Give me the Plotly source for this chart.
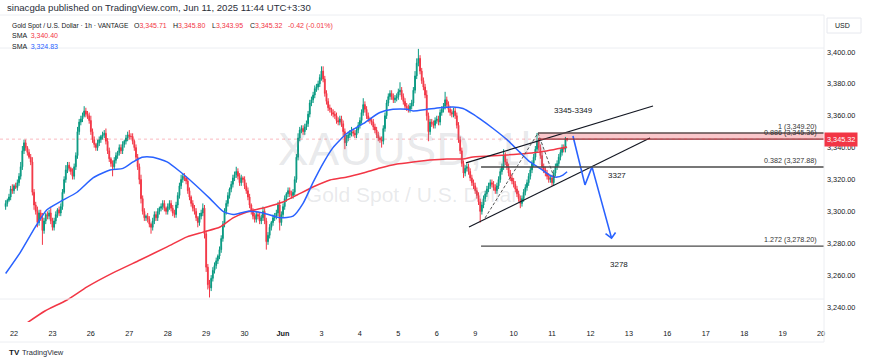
import plotly.graph_objects as go

# ---------------- data (hourly XAUUSD candles, bar 0 = start of May 22 session) ----------------
FIRST_BAR = -5
BARS_PER_DAY = 23
first_open = 3303.0

closes = [
    3305, 3307, 3309, 3314, 3313, 3316, 3315, 3318, 3322, 3328,
    3338, 3343, 3340, 3337, 3334, 3331, 3312, 3304, 3300, 3293,
    3299, 3296, 3288, 3294, 3298, 3297, 3299, 3294, 3290, 3294,
    3298, 3301, 3299, 3303, 3312, 3320, 3326, 3329, 3327, 3325,
    3322, 3328, 3335, 3350, 3356, 3358, 3360, 3363, 3361, 3360,
    3357, 3350, 3345, 3342, 3340, 3343, 3345, 3347, 3348, 3349,
    3344, 3338, 3333, 3330, 3328, 3332, 3335, 3337, 3340, 3338,
    3342, 3344, 3346, 3348, 3347, 3347, 3344, 3340, 3334, 3328,
    3320, 3308, 3300, 3296, 3297, 3295, 3292, 3290, 3294, 3298,
    3296, 3300, 3302, 3303, 3305, 3302, 3300, 3303, 3305, 3302,
    3299, 3298, 3304, 3310, 3316, 3320, 3322, 3321, 3319, 3313,
    3309, 3305, 3302, 3300, 3296, 3293, 3297, 3299, 3302, 3286,
    3265, 3254, 3252, 3258, 3263, 3266, 3269, 3272, 3276, 3283,
    3292, 3300, 3305, 3310, 3314, 3317, 3321, 3323, 3325, 3322,
    3318, 3321, 3320, 3316, 3313, 3309, 3304, 3300, 3297, 3295,
    3298, 3297, 3294, 3296, 3300, 3294, 3281, 3285, 3290, 3293,
    3296, 3297, 3299, 3304, 3293, 3298, 3303, 3308, 3311, 3313,
    3311, 3310, 3312, 3320, 3334, 3346, 3351, 3352, 3350, 3353,
    3355, 3361, 3368, 3370, 3373, 3377, 3378, 3380, 3384, 3388,
    3383, 3374, 3369, 3365, 3364, 3362, 3361, 3360, 3357, 3356,
    3358, 3355, 3350, 3343, 3346, 3348, 3349, 3350, 3349, 3348,
    3351, 3354, 3357, 3362, 3367, 3364, 3360, 3358, 3357, 3356,
    3353, 3351, 3348, 3346, 3345, 3344, 3352, 3360, 3368, 3372,
    3374, 3372, 3370, 3371, 3372, 3375, 3376, 3372, 3369, 3366,
    3365, 3364, 3366, 3368, 3376, 3385, 3393, 3396, 3388, 3382,
    3378, 3373, 3360, 3350, 3356, 3355, 3354, 3357, 3358, 3356,
    3362, 3364, 3366, 3370, 3367, 3364, 3362, 3361, 3363, 3360,
    3354, 3345, 3338, 3330, 3324, 3327, 3328, 3325, 3321, 3318,
    3316, 3313, 3310, 3306, 3300, 3304, 3308, 3311, 3314, 3316,
    3318, 3317, 3315, 3313, 3316, 3320, 3325, 3328, 3335, 3331,
    3328, 3324, 3321, 3319, 3317, 3314, 3311, 3308, 3305, 3308,
    3312, 3315, 3318, 3322, 3326, 3330, 3334, 3339, 3344, 3340,
    3335, 3328, 3326, 3324, 3322, 3320, 3321, 3318, 3324, 3328,
    3330, 3334, 3337, 3340, 3339, 3345.71, 3345.32,
]

upper_wicks = [
    2, 1, 2, 2, 3, 1, 2, 2, 2, 3,
    3, 2, 2, 1, 2, 2, 3, 2, 2, 3,
    2, 2, 3, 2, 1, 2, 2, 3, 2, 2,
    2, 1, 2, 2, 2, 2, 3, 2, 2, 1,
    2, 2, 2, 3, 2, 2, 2, 3, 2, 2,
    2, 3, 2, 2, 1, 2, 2, 1, 2, 2,
    3, 2, 2, 1, 2, 2, 2, 1, 2, 2,
    2, 1, 2, 2, 3, 2, 2, 1, 2, 2,
    2, 3, 2, 2, 1, 2, 2, 1, 2, 2,
    2, 2, 1, 2, 2, 2, 1, 2, 2, 2,
    2, 2, 2, 2, 2, 3, 2, 2, 1, 2,
    2, 1, 2, 2, 2, 1, 2, 2, 3, 2,
    2, 2, 3, 2, 2, 2, 2, 1, 2, 2,
    2, 2, 2, 2, 1, 2, 2, 2, 3, 2,
    2, 2, 1, 2, 2, 2, 2, 1, 2, 2,
    2, 2, 2, 2, 3, 2, 2, 2, 2, 1,
    2, 2, 2, 2, 3, 2, 2, 2, 1, 2,
    2, 2, 2, 2, 2, 3, 2, 2, 2, 2,
    2, 2, 2, 2, 2, 2, 2, 2, 2, 3,
    3, 2, 2, 2, 2, 1, 2, 2, 2, 2,
    2, 2, 2, 2, 2, 2, 2, 3, 2, 2,
    2, 2, 2, 2, 4, 2, 2, 2, 1, 2,
    2, 2, 2, 2, 1, 2, 2, 2, 2, 2,
    2, 2, 2, 2, 2, 2, 5, 2, 2, 2,
    2, 2, 2, 2, 2, 3, 3, 6, 2, 2,
    2, 2, 3, 2, 2, 2, 2, 2, 2, 2,
    2, 2, 2, 5, 2, 2, 2, 2, 2, 2,
    2, 2, 2, 2, 2, 2, 2, 2, 2, 2,
    2, 2, 2, 2, 2, 2, 2, 2, 2, 2,
    2, 2, 2, 2, 2, 2, 2, 2, 4, 2,
    2, 2, 2, 2, 2, 2, 2, 2, 2, 2,
    2, 2, 2, 2, 2, 2, 2, 2, 5.2, 2,
    2, 2, 2, 2, 2, 2, 2, 2, 2, 2,
    2, 2, 2, 2, 2, 1, 0.09,
]

lower_wicks = [
    2, 2, 1, 2, 2, 2, 1, 2, 2, 2,
    2, 2, 2, 2, 1, 2, 2, 3, 2, 3,
    2, 2, 9, 2, 2, 2, 2, 2, 2, 2,
    2, 2, 2, 2, 2, 1, 2, 2, 2, 2,
    2, 2, 2, 2, 2, 2, 2, 1, 2, 2,
    2, 2, 2, 2, 2, 2, 2, 2, 2, 2,
    2, 2, 2, 2, 6, 2, 2, 2, 2, 2,
    2, 2, 2, 2, 2, 2, 2, 2, 2, 2,
    3, 3, 2, 2, 2, 2, 2, 4, 2, 2,
    2, 2, 2, 2, 2, 2, 2, 2, 2, 2,
    2, 2, 2, 2, 2, 2, 2, 2, 2, 2,
    2, 2, 2, 2, 2, 3, 2, 2, 2, 3,
    3, 3, 6, 2, 2, 2, 2, 2, 2, 2,
    2, 2, 2, 2, 2, 2, 2, 2, 2, 2,
    2, 2, 2, 2, 2, 2, 2, 2, 2, 2,
    2, 2, 2, 2, 2, 2, 5, 2, 2, 2,
    2, 2, 2, 2, 5, 2, 2, 2, 2, 2,
    2, 2, 2, 2, 2, 2, 2, 2, 2, 2,
    2, 2, 2, 2, 2, 2, 2, 2, 2, 2,
    2, 2, 2, 2, 2, 2, 2, 2, 2, 2,
    2, 2, 3, 4, 2, 2, 2, 2, 2, 2,
    2, 2, 2, 2, 2, 2, 2, 2, 2, 2,
    2, 2, 2, 2, 2, 4, 2, 2, 2, 2,
    2, 2, 2, 2, 2, 2, 2, 2, 2, 2,
    2, 2, 2, 2, 2, 2, 2, 2, 2, 2,
    2, 2, 3, 6, 2, 2, 2, 2, 2, 2,
    2, 2, 2, 2, 2, 2, 2, 2, 2, 2,
    2, 2, 2, 2, 3, 2, 2, 2, 2, 2,
    2, 2, 2, 2, 7, 2, 2, 2, 2, 2,
    2, 2, 2, 2, 2, 2, 2, 2, 2, 2,
    2, 2, 2, 2, 2, 2, 2, 2, 3, 2,
    2, 2, 2, 2, 2, 2, 2, 2, 2, 2,
    2, 2, 2, 2, 2, 2, 2, 2, 2, 2,
    2, 2, 2, 2, 2, 2, 1.37,
]

day_labels = ["22", "23", "26", "27", "28", "29", "30", "<b>Jun</b>", "3", "4", "5",
              "6", "9", "10", "11", "12", "13", "16", "17", "18", "19", "20"]
price_ticks = [3240, 3260, 3280, 3300, 3320, 3340, 3360, 3380, 3400]

# SMA (fast, blue) sampled along the curve: bar index, value
sma_fast_bar = [-5, 3.6, 12.6, 19.7, 27.5, 37.7, 47.3, 57.5, 65.2, 71.2, 76.6, 83.2, 91.6,
                99.3, 107.1, 117.3, 125.1, 131.1, 139.4, 149.0, 159.2, 167.0, 173.0, 178.9,
                184.9, 190.9, 199.3, 208.9, 219.0, 226.8, 235.2, 238.8, 247.2, 254.9, 262.7,
                268.7, 274.7, 278.9, 286.7, 295.0, 302.8, 308.8, 314.8, 320.8, 325.0, 328.5, 331.0]
sma_fast_val = [3261, 3274, 3290, 3301, 3306, 3312, 3321, 3326, 3327, 3331, 3334, 3334, 3331,
                3325, 3318, 3308, 3300, 3298, 3300, 3299, 3296, 3297, 3305, 3318,
                3330, 3340, 3349, 3355, 3362, 3364, 3364, 3363, 3364, 3365, 3365.5,
                3364.5, 3361, 3358, 3352, 3345, 3337, 3331, 3327, 3322.5, 3321.5, 3322.8, 3324.83]

# SMA (slow, red)
sma_slow_bar = [5.0, 18.5, 31.7, 43.7, 59.2, 75.4, 91.6, 103.5, 113.1, 123.3, 131.1, 139.4,
                151.4, 161.0, 169.4, 178.9, 189.1, 199.3, 208.9, 219.0, 229.2, 238.8, 248.9,
                259.1, 268.7, 274.7, 295.0, 314.8, 331.0]
sma_slow_val = [3228, 3237.5, 3244.4, 3252.6, 3261.4, 3269.5, 3277.7, 3284, 3287, 3290.2,
                3295.9, 3299.6, 3302.8, 3305.9, 3310.3, 3315.3, 3319.7, 3321.6, 3324.1,
                3327.2, 3329.7, 3331, 3332.2, 3332.9, 3332.9, 3334.1, 3335.4, 3337.3, 3340.4]

# Drawings (bar index / price)
wedge_upper_bar = [270.5, 382.4]
wedge_upper_val = [3330.4, 3366.1]
wedge_lower_bar = [272.3, 380.6]
wedge_lower_val = [3290.2, 3346.0]
fib_trend_bar = [281.9, 313.6, 323.8]
fib_trend_val = [3295.9, 3349.2, 3319.7]
proj_bar = [334.5, 341.7, 345.9, 357.6]
proj_val = [3347.3, 3316.6, 3327.9, 3283.2]
arrow_bar = [354.0, 357.6, 360.0]
arrow_val = [3286.1, 3283.2, 3286.8]

fib_labels = ["1 (3,349.20)", "0.886 (3,345.36)", "0.382 (3,327.88)", "1.272 (3,278.20)"]
fib_values = [3349.20, 3345.36, 3327.88, 3278.20]
fib_start_bar = [313.6, 313.6, 279.5, 279.5]
zone_text = ["3345-3349", "3327", "3278"]
zone_bar = [335.1, 360.9, 362.0]
zone_val = [3363.0, 3322.2, 3266.4]

last_price = 3345.32

# ---------------- build ----------------
X_RANGE = [-8.38, 484.74]
Y_RANGE = [3230.6, 3423.2]
UP, DOWN = "#089981", "#F23645"
BLUE, RED = "#2962FF", "#F23645"
FONT = "Liberation Sans, Arial, sans-serif"

n = min(len(closes), len(upper_wicks), len(lower_wicks))
bars = [FIRST_BAR + i for i in range(n)]
opens = [first_open] + closes[:n - 1]
highs = [max(o, c) + w for o, c, w in zip(opens, closes[:n], upper_wicks)]
lows = [min(o, c) - w for o, c, w in zip(opens, closes[:n], lower_wicks)]

fig = go.Figure()

# watermark (drawn first so it sits behind the candles)
fig.add_trace(go.Scatter(
    x=[238.2, 238.2], y=[3336.6, 3309.0], mode="text",
    text=["XAUUSD, 1h", "Gold Spot / U.S. Dollar"],
    textfont=dict(size=[46, 21], color="rgba(140,144,156,0.2)", family=FONT),
    hoverinfo="skip", showlegend=False))

fig.add_trace(go.Candlestick(
    x=bars, open=opens, high=highs, low=lows, close=closes[:n],
    increasing=dict(line=dict(color=UP, width=1), fillcolor=UP),
    decreasing=dict(line=dict(color=DOWN, width=1), fillcolor=DOWN),
    whiskerwidth=0, hoverinfo="skip", showlegend=False))

fig.add_trace(go.Scatter(x=sma_slow_bar, y=sma_slow_val, mode="lines",
                         line=dict(color=RED, width=1.5, shape="spline", smoothing=0.6),
                         hoverinfo="skip", showlegend=False))
fig.add_trace(go.Scatter(x=sma_fast_bar, y=sma_fast_val, mode="lines",
                         line=dict(color=BLUE, width=1.5, shape="spline", smoothing=0.6),
                         hoverinfo="skip", showlegend=False))

# fib zone band + level lines
shapes = []
shapes.append(dict(type="rect", xref="x", yref="y", x0=fib_start_bar[0], x1=X_RANGE[1],
                   y0=fib_values[1], y1=fib_values[0], fillcolor="rgba(242,54,69,0.28)",
                   line=dict(width=0), layer="below"))
level_colors = ["#5b4b4b", "#8a2e33", "#4a4a4a", "#4a4a4a"]
for xb, v, col in zip(fib_start_bar, fib_values, level_colors):
    shapes.append(dict(type="line", xref="x", yref="y", x0=xb, x1=X_RANGE[1], y0=v, y1=v,
                       line=dict(color=col, width=1.4)))
# last price line
shapes.append(dict(type="line", xref="paper", yref="y", x0=0, x1=1, y0=last_price, y1=last_price,
                   line=dict(color="rgba(242,54,69,0.35)", width=1, dash="dot")))
# pane borders (faint)
for yp in [1.0, (322 - 48) / 307, (322 - 299) / 307, (322 - 342) / 307]:
    shapes.append(dict(type="line", xref="paper", yref="paper", x0=0, x1=1, y0=yp, y1=yp,
                       line=dict(color="#eceef2", width=1)))
shapes.append(dict(type="line", xref="paper", yref="paper", x0=1, x1=1,
                   y0=(322 - 342) / 307, y1=1.0, line=dict(color="#eceef2", width=1)))
# USD box
shapes.append(dict(type="rect", xref="paper", yref="paper", x0=827 / 824, x1=861 / 824,
                   y0=(322 - 33) / 307, y1=(322 - 18) / 307,
                   line=dict(color="#e6e8ee", width=1), fillcolor="white"))

# drawings
for xs, ys in [(wedge_upper_bar, wedge_upper_val), (wedge_lower_bar, wedge_lower_val)]:
    fig.add_trace(go.Scatter(x=xs, y=ys, mode="lines", line=dict(color="#131722", width=1.2),
                             hoverinfo="skip", showlegend=False))
fig.add_trace(go.Scatter(x=fib_trend_bar, y=fib_trend_val, mode="lines",
                         line=dict(color="#555", width=1, dash="3px,2px"),
                         hoverinfo="skip", showlegend=False))
fig.add_trace(go.Scatter(x=proj_bar, y=proj_val, mode="lines", line=dict(color=BLUE, width=1.6),
                         hoverinfo="skip", showlegend=False))
fig.add_trace(go.Scatter(x=arrow_bar, y=arrow_val, mode="lines", line=dict(color=BLUE, width=1.6),
                         hoverinfo="skip", showlegend=False))

annotations = []


def px_ann(xp, yp, text, size, color="#131722", xanchor="left"):
    annotations.append(dict(xref="paper", yref="paper", x=xp / 824, y=(322 - yp) / 307,
                            text=text, showarrow=False, xanchor=xanchor, yanchor="middle",
                            font=dict(size=size, color=color, family=FONT)))


px_ann(5, 8, "sinacgda published on TradingView.com, Jun 11, 2025 11:44 UTC+3:30", 9.6, "#2a2e39")
px_ann(10, 25.5, "Gold Spot / U.S. Dollar · 1h · VANTAGE", 6.6)
px_ann(132, 25.5, "O<span style='color:#F23645'>3,345.71</span>", 7)
px_ann(171, 25.5, "H<span style='color:#F23645'>3,345.80</span>", 7)
px_ann(210, 25.5, "L<span style='color:#F23645'>3,343.95</span>", 7)
px_ann(248, 25.5, "C<span style='color:#F23645'>3,345.32</span>", 7)
px_ann(286, 25.5, "-0.42 (-0.01%)", 7, "#F23645")
px_ann(10, 35.5, "SMA  <span style='color:#F23645'>3,340.40</span>", 7)
px_ann(10, 46, "SMA  <span style='color:#2962FF'>3,324.83</span>", 7)
px_ann(833, 25.5, "USD", 7)
px_ann(7, 352, "<b>TV</b>", 8)
px_ann(20, 352, "TradingView", 7.5, "#2a2e39")

for t, v in zip(fib_labels, fib_values):
    annotations.append(dict(xref="x", yref="y", x=481.7, y=v, text=t, showarrow=False,
                            xanchor="right", yanchor="bottom",
                            font=dict(size=7.2, color="#333", family=FONT)))
for t, xb, v in zip(zone_text, zone_bar, zone_val):
    annotations.append(dict(xref="x", yref="y", x=xb, y=v, text=t, showarrow=False,
                            xanchor="center", yanchor="middle",
                            font=dict(size=8, color="#131722", family=FONT)))
annotations.append(dict(xref="paper", yref="y", x=1, y=last_price, text="3,345.32",
                        showarrow=False, xanchor="left", yanchor="middle", bgcolor=RED,
                        borderpad=2, font=dict(size=7.3, color="white", family=FONT)))

fig.update_layout(
    width=870, height=363, margin=dict(l=0, r=46, t=15, b=41),
    paper_bgcolor="white", plot_bgcolor="white", showlegend=False,
    font=dict(family=FONT, color="#131722"),
    shapes=shapes, annotations=annotations, dragmode=False,
    xaxis=dict(range=X_RANGE, showgrid=False, zeroline=False, showline=False, ticks="",
               tickvals=[i * BARS_PER_DAY for i in range(len(day_labels))], ticktext=day_labels,
               tickfont=dict(size=7.3, color="#131722"), ticklabelstandoff=6,
               rangeslider=dict(visible=False), fixedrange=True),
    yaxis=dict(range=Y_RANGE, side="right", showgrid=False, zeroline=False, showline=False,
               ticks="", tickvals=price_ticks, ticktext=[f"{v:,.2f}" for v in price_ticks],
               tickfont=dict(size=7.3, color="#131722"), ticklabelstandoff=2, fixedrange=True),
)

fig.write_html("out.html", config={"displayModeBar": False, "staticPlot": True},
               post_script="document.body.style.margin='0px';document.body.style.padding='0px';")
